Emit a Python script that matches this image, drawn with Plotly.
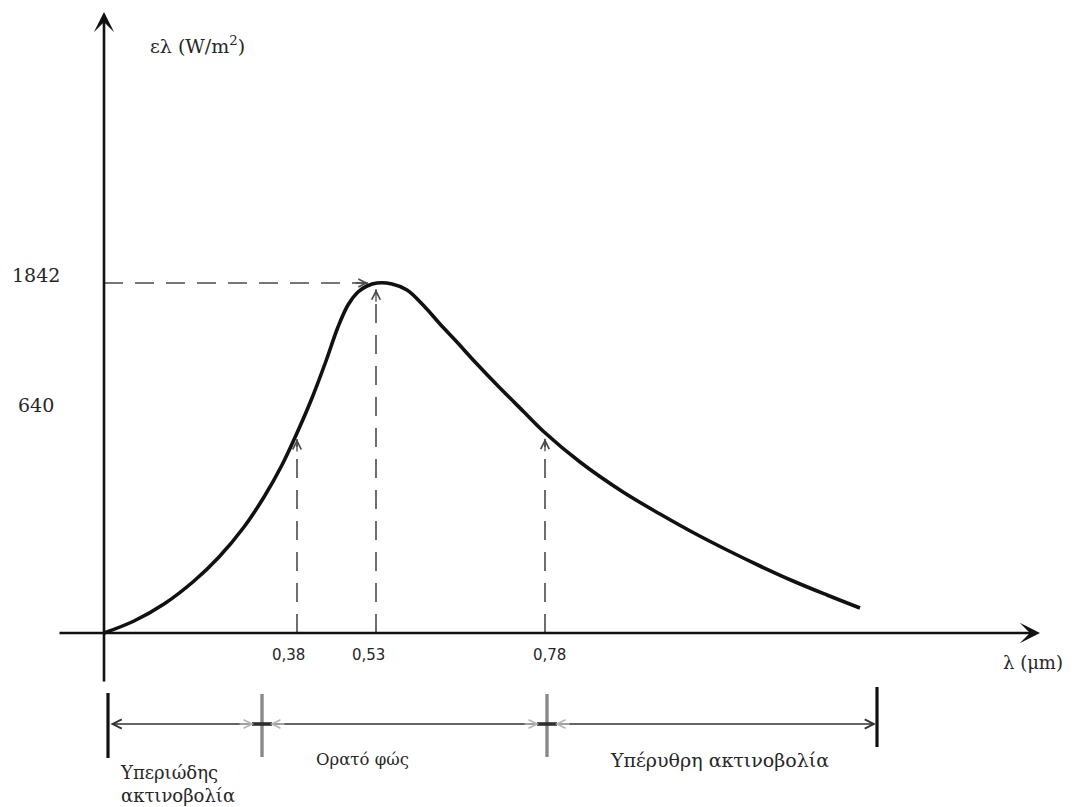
import numpy as np
import plotly.graph_objects as go

# ---- data (schematic drawing units, origin at the axes' crossing) ----
curve_u = [0, 30, 60, 90, 115, 140, 160, 178, 193, 208, 222, 234, 244, 254, 263, 273,
           288, 303, 320, 336, 352, 372, 395, 420, 439, 476, 519, 556, 590, 623, 656, 689, 723, 756]
curve_v = [0, 12, 29, 52, 76, 106, 136, 168, 200, 235, 272, 306, 328, 341, 347, 350,
           349, 343, 327, 309, 292, 270, 246, 221, 202, 171, 141, 119, 100, 83, 67, 52, 38, 25]

x_tick_u = [193, 272, 441]
x_tick_labels = ["0,38", "0,53", "0,78"]
x_label_shift = [-9, -8, 4]

y_tick_v = [358, 228]
y_tick_labels = ["1842", "640"]
peak_v = 350

band_edges_u = [4, 158, 443, 773]
band_labels = ["Υπεριώδης<br>ακτινοβολία", "Ορατό φώς", "Υπέρυθρη ακτινοβολία"]

SERIF = "DejaVu Serif"
SANS = "DejaVu Sans"
INK = "#111111"
TXT = "#262626"
DASH_C = "#4a4a4a"

fig = go.Figure()

# curve
fig.add_trace(go.Scatter(x=curve_u, y=curve_v, mode="lines",
                         line=dict(color=INK, width=3.6, shape="spline", smoothing=1.0),
                         hoverinfo="skip", showlegend=False))

shapes = []
annotations = []

def arrow(x, y, ax, ay, color=INK, width=2.5, head=3, size=1.2, side="end"):
    annotations.append(dict(x=x, y=y, ax=ax, ay=ay, xref="x", yref="y", axref="x", ayref="y",
                            text="", showarrow=True, arrowhead=head, startarrowhead=head,
                            arrowsize=size, startarrowsize=size,
                            arrowwidth=width, arrowcolor=color, arrowside=side, standoff=0,
                            startstandoff=0))

# axes with arrows
arrow(0, 621, 0, -50, width=2.6, head=3, size=1.3)
arrow(936, 0, -46, 0, width=2.6, head=3, size=1.3)

# dashed guide lines to the curve
dash = "19px,12px"
for u in x_tick_u:
    tip = float(np.interp(u, curve_u, curve_v)) - 6
    shapes.append(dict(type="line", xref="x", yref="y", x0=u, x1=u, y0=0, y1=tip,
                       line=dict(color=DASH_C, width=1.6, dash=dash)))
    arrow(u, tip, u, tip - 14, color=DASH_C, width=1.3, head=5, size=1.3)

# horizontal dashed line at the peak
peak_u = x_tick_u[1]
shapes.append(dict(type="line", xref="x", yref="y", x0=0, x1=peak_u - 8, y0=peak_v, y1=peak_v,
                   line=dict(color=DASH_C, width=1.6, dash=dash)))
arrow(peak_u - 8, peak_v, peak_u - 22, peak_v, color=DASH_C, width=1.3, head=5, size=1.2)

# tick labels
for u, lab, sh in zip(x_tick_u, x_tick_labels, x_label_shift):
    annotations.append(dict(x=u, y=-22, xref="x", yref="y", text=lab, showarrow=False,
                            xshift=sh, font=dict(family=SANS, size=15, color=TXT)))
for v, lab in zip(y_tick_v, y_tick_labels):
    annotations.append(dict(x=-68, y=v, xref="x", yref="y", text=lab, showarrow=False,
                            font=dict(family=SERIF, size=19, color=TXT)))

# axis titles
annotations.append(dict(x=44, y=588, xref="x", yref="y", text="ελ (W/m<sup>2</sup>)",
                        showarrow=False, xanchor="left",
                        font=dict(family=SERIF, size=19, color=TXT)))
annotations.append(dict(x=929, y=-29, xref="x", yref="y", text="λ (μm)",
                        showarrow=False, font=dict(family=SERIF, size=18, color=TXT)))

# bottom spectrum band
band_v = -91
arrow(band_edges_u[-1] - 1, band_v, band_edges_u[0] + 1, band_v, color="#333333",
      width=1.4, head=5, size=1.3, side="end+start")
shapes.append(dict(type="line", xref="x", yref="y", x0=band_edges_u[0], x1=band_edges_u[0],
                   y0=-60, y1=-125, line=dict(color=INK, width=3.2)))
shapes.append(dict(type="line", xref="x", yref="y", x0=band_edges_u[-1], x1=band_edges_u[-1],
                   y0=-54, y1=-114, line=dict(color=INK, width=3.2)))
for u in band_edges_u[1:-1]:
    shapes.append(dict(type="line", xref="x", yref="y", x0=u, x1=u, y0=-61, y1=-124,
                       line=dict(color="#8a8a8a", width=3.4)))
    shapes.append(dict(type="line", xref="x", yref="y", x0=u - 10, x1=u + 10,
                       y0=band_v, y1=band_v, line=dict(color="#222222", width=3.5)))
    arrow(u - 8, band_v, u - 24, band_v, color="#b5b5b5", width=1.3, head=5, size=1.3)
    arrow(u + 8, band_v, u + 24, band_v, color="#b5b5b5", width=1.3, head=5, size=1.3)

annotations.append(dict(x=band_edges_u[0] + 10, y=-151, xref="x", yref="y", text=band_labels[0],
                        showarrow=False, xanchor="left", align="left",
                        font=dict(family=SERIF, size=18, color=TXT)))
annotations.append(dict(x=258, y=-126, xref="x", yref="y", text=band_labels[1],
                        showarrow=False, font=dict(family=SERIF, size=16.5, color=TXT)))
annotations.append(dict(x=615, y=-127, xref="x", yref="y", text=band_labels[2],
                        showarrow=False, font=dict(family=SERIF, size=19, color=TXT)))

# the page body has an 8px default margin, so the ranges are offset to compensate
fig.update_layout(
    width=1072, height=807,
    margin=dict(l=0, r=0, t=0, b=0, pad=0),
    paper_bgcolor="white", plot_bgcolor="white",
    xaxis=dict(range=[-96, 976], visible=False, fixedrange=True),
    yaxis=dict(range=[-182, 625], visible=False, fixedrange=True),
    shapes=shapes, annotations=annotations, showlegend=False,
)

fig.write_html("out.html")
